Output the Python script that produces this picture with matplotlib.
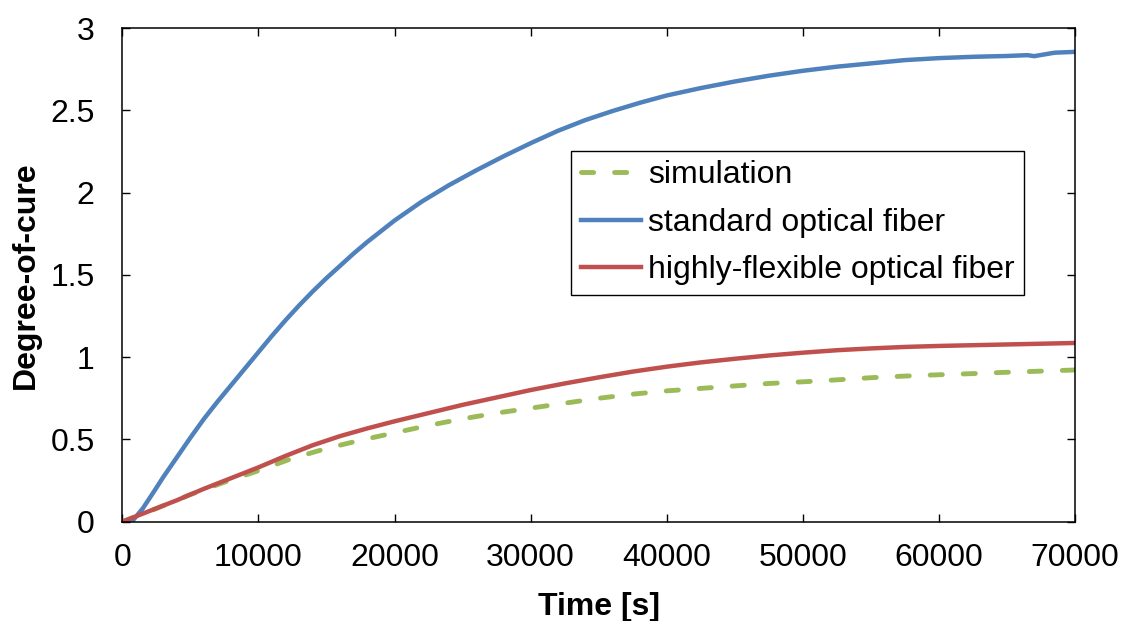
import matplotlib
matplotlib.use("Agg")
import matplotlib.pyplot as plt

plt.rcParams['font.family'] = ['Liberation Sans', 'DejaVu Sans']

# simulation (dashed green)
sim_t = [0, 2500, 5000, 7500, 10000, 12500, 15000, 17500, 20000, 22500, 25000,
         27500, 30000, 32500, 35000, 37500, 40000, 42500, 45000, 47500, 50000,
         52500, 55000, 57500, 60000, 62500, 65000, 67500, 70000]
sim_v = [0, 0.08, 0.165, 0.24, 0.31, 0.385, 0.445, 0.495, 0.54, 0.585, 0.625,
         0.66, 0.69, 0.72, 0.75, 0.775, 0.795, 0.81, 0.825, 0.84, 0.85,
         0.862, 0.875, 0.885, 0.893, 0.90, 0.908, 0.915, 0.922]

# standard optical fiber (blue)
std_t = [0, 800, 1500, 2300, 3000, 4000, 5000, 6000, 7000, 8000, 9000, 10000,
         11000, 12000, 13000, 14000, 15000, 16000, 17000, 18000, 19000, 20000,
         22000, 24000, 26000, 28000, 30000, 32000, 34000, 36000, 38000, 40000,
         42500, 45000, 47500, 50000, 52500, 55000, 57500, 60000, 62500, 65000,
         66500, 67000, 67500, 68500, 70000]
std_v = [0, 0.01, 0.08, 0.18, 0.27, 0.39, 0.51, 0.625, 0.73, 0.83, 0.93, 1.03,
         1.13, 1.225, 1.315, 1.40, 1.48, 1.555, 1.63, 1.70, 1.765, 1.83,
         1.945, 2.045, 2.135, 2.22, 2.30, 2.375, 2.44, 2.495, 2.545, 2.59,
         2.635, 2.675, 2.71, 2.74, 2.765, 2.785, 2.805, 2.817, 2.825, 2.83,
         2.835, 2.829, 2.836, 2.85, 2.855]

# highly-flexible optical fiber (red)
flex_t = [0, 2000, 4000, 6000, 8000, 10000, 12000, 14000, 16000, 18000, 20000,
          22500, 25000, 27500, 30000, 32500, 35000, 37500, 40000, 42500, 45000,
          47500, 50000, 52500, 55000, 57500, 60000, 65000, 70000]
flex_v = [0, 0.065, 0.13, 0.20, 0.265, 0.33, 0.40, 0.465, 0.52, 0.567, 0.61,
          0.66, 0.71, 0.755, 0.80, 0.84, 0.877, 0.912, 0.942, 0.968, 0.99,
          1.01, 1.027, 1.042, 1.053, 1.062, 1.068, 1.077, 1.086]

labels = ["simulation", "standard optical fiber", "highly-flexible optical fiber"]
x_ticks = [0, 10000, 20000, 30000, 40000, 50000, 60000, 70000]
y_ticks = [0, 0.5, 1, 1.5, 2, 2.5, 3]

fig = plt.figure(figsize=(11.21, 6.21), dpi=100)
ax = fig.add_axes([0.1091, 0.1599, 0.8499, 0.795])

ax.plot(sim_t, sim_v, color='#9BBB59', lw=3.5, linestyle=(0, (2.5, 4.3)),
        dash_capstyle='round', label=labels[0])
ax.plot(std_t, std_v, color='#4F81BD', lw=3.2, label=labels[1])
ax.plot(flex_t, flex_v, color='#C0504D', lw=3.2, label=labels[2])

ax.set_xlim(0, 70000)
ax.set_ylim(0, 3)
ax.set_xticks(x_ticks)
ax.set_yticks(y_ticks)
ax.set_xticklabels([str(t) for t in x_ticks])
ax.set_yticklabels(['0', '0.5', '1', '1.5', '2', '2.5', '3'])

ax.tick_params(direction='in', top=True, right=True, length=6, width=1,
               labelsize=23, colors='black')
ax.tick_params(axis='x', pad=15)
ax.tick_params(axis='y', pad=20)
for sp in ax.spines.values():
    sp.set_linewidth(1.1)
    sp.set_color('black')

ax.set_xlabel("Time [s]", fontsize=23, fontweight='bold', labelpad=14)
ax.set_ylabel("Degree-of-cure", fontsize=23, fontweight='bold', labelpad=7)

leg = ax.legend(loc='upper right', bbox_to_anchor=(0.9465, 0.7515),
                borderaxespad=0, fontsize=23, frameon=True, fancybox=False,
                framealpha=1, edgecolor='black', handlelength=1.9,
                handletextpad=0.2, borderpad=0.3, labelspacing=0.55)
leg.get_frame().set_linewidth(1.0)

fig.savefig("out.png", dpi=100)
